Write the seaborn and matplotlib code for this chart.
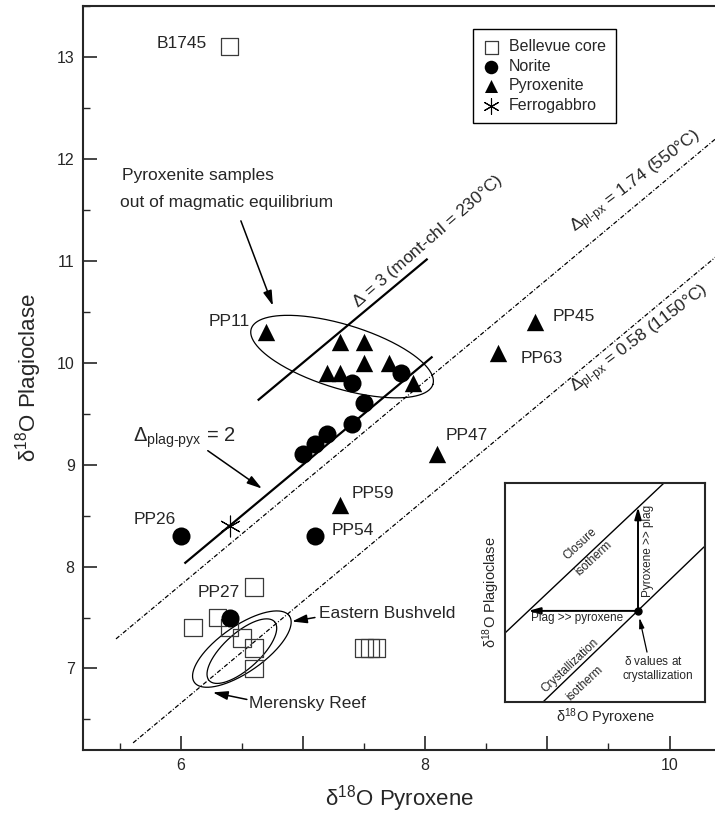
import numpy as np
import pandas as pd
import matplotlib
matplotlib.use("Agg")
import matplotlib.pyplot as plt
import seaborn as sns

# ---------------- data ----------------
bellevue_x = [6.4, 6.6, 6.1, 6.3, 6.4, 6.5, 6.6, 6.6, 7.5, 7.55, 7.6]
bellevue_y = [13.1, 7.8, 7.4, 7.5, 7.4, 7.3, 7.2, 7.0, 7.2, 7.2, 7.2]
norite_x = [6.0, 7.1, 6.4, 7.0, 7.1, 7.2, 7.4, 7.5, 7.4, 7.8]
norite_y = [8.3, 8.3, 7.5, 9.1, 9.2, 9.3, 9.4, 9.6, 9.8, 9.9]
pyroxenite_x = [6.7, 8.9, 8.6, 8.1, 7.3, 7.3, 7.5, 7.2, 7.3, 7.5, 7.7, 7.9]
pyroxenite_y = [10.3, 10.4, 10.1, 9.1, 8.6, 10.2, 10.2, 9.9, 9.9, 10.0, 10.0, 9.8]
ferrogabbro_x = [6.4]
ferrogabbro_y = [8.4]

# sample labels: name, x, y, offset (px), ha
label_names = ["B1745", "PP11", "PP45", "PP63", "PP47", "PP59", "PP54", "PP26", "PP27"]
label_x = [6.4, 6.7, 8.9, 8.6, 8.1, 7.3, 7.1, 6.0, 6.4]
label_y = [13.1, 10.3, 10.4, 10.1, 9.1, 8.6, 8.3, 8.3, 7.5]
label_dx = [-23, -16, 17, 22, 8, 12, 16, -47, -32]
label_dy = [3, 11, 5, -6, 19, 12, 5, 16, 25]
label_ha = ["right", "right", "left", "left", "left", "left", "left", "left", "left"]

# reference lines y = x + delta
solid_delta = [2.0, 3.0]
solid_x0 = [6.03, 6.63]
solid_x1 = [8.06, 8.02]
dashdot_delta = [1.82, 0.66]
dashdot_x0 = [5.47, 5.61]
dashdot_x1 = [10.4, 10.4]

XLIM = (5.2, 10.38)
YLIM = (6.2, 13.49)

# ---------------- style ----------------
sns.set_style("ticks")
plt.rcParams["font.family"] = ["Liberation Sans", "DejaVu Sans"]
plt.rcParams["mathtext.fontset"] = "custom"
plt.rcParams["mathtext.rm"] = "Liberation Sans"
plt.rcParams["mathtext.it"] = "Liberation Sans:italic"
plt.rcParams["mathtext.sf"] = "Liberation Sans"
plt.rcParams["mathtext.bf"] = "Liberation Sans:bold"

FS = 12.5

W, H = 715, 816
fig = plt.figure(figsize=(W / 100, H / 100), dpi=100)
ax_l, ax_r, ax_t, ax_b = 83, 716, 6, 750
ax = fig.add_axes([ax_l / W, 1 - ax_b / H, (ax_r - ax_l) / W, (ax_b - ax_t) / H])
ax.set_xlim(*XLIM)
ax.set_ylim(*YLIM)
sx = (ax_r - ax_l) / (XLIM[1] - XLIM[0])
sy = (ax_b - ax_t) / (YLIM[1] - YLIM[0])

# ---------------- reference lines ----------------
for d, x0, x1 in zip(solid_delta, solid_x0, solid_x1):
    xs = np.array([x0, x1])
    ax.plot(xs, xs + d, color="black", lw=1.6, zorder=2, solid_capstyle="butt")
for d, x0, x1 in zip(dashdot_delta, dashdot_x0, dashdot_x1):
    xs = np.array([x0, x1])
    ax.plot(xs, xs + d, color="black", lw=0.9, dashes=(3.5, 1.5, 0.8, 1.5), zorder=2)

# ---------------- ellipses ----------------
def px_ellipse(cx, cy, a, b, ang, **kw):
    t = np.linspace(0, 2 * np.pi, 300)
    th = np.deg2rad(ang)
    ex = a * np.cos(t) * np.cos(th) - b * np.sin(t) * np.sin(th)
    ey = a * np.cos(t) * np.sin(th) + b * np.sin(t) * np.cos(th)
    ax.plot(cx + ex / sx, cy + ey / sy, **kw)

px_ellipse(7.32, 10.06, 95, 32, -17, color="black", lw=0.9, zorder=2)
px_ellipse(6.5, 7.19, 58, 23, 35, color="black", lw=0.9, zorder=2)
px_ellipse(6.5, 7.17, 44, 18, 42, color="black", lw=0.9, zorder=2)

# ---------------- scatter ----------------
df_b = pd.DataFrame({"x": bellevue_x, "y": bellevue_y})
df_n = pd.DataFrame({"x": norite_x, "y": norite_y})
df_p = pd.DataFrame({"x": pyroxenite_x, "y": pyroxenite_y})
df_f = pd.DataFrame({"x": ferrogabbro_x, "y": ferrogabbro_y})

sns.scatterplot(data=df_b, x="x", y="y", marker="s", s=12.5 ** 2, color="none",
                edgecolor="#3a3a3a", linewidth=0.9, label="Bellevue core", ax=ax, zorder=3)
sns.scatterplot(data=df_n, x="x", y="y", marker="o", s=13 ** 2, color="black",
                linewidth=0, label="Norite", ax=ax, zorder=4)
sns.scatterplot(data=df_p, x="x", y="y", marker="^", s=12.5 ** 2, color="black",
                linewidth=0, label="Pyroxenite", ax=ax, zorder=4)
sns.scatterplot(data=df_f, x="x", y="y", marker=(6, 2, 0), s=15 ** 2, color="black",
                edgecolor="black", linewidth=0.8, label="Ferrogabbro", ax=ax, zorder=4)

# ---------------- sample labels ----------------
for n, x, y, dx, dy, ha in zip(label_names, label_x, label_y, label_dx, label_dy, label_ha):
    ax.annotate(n, xy=(x, y), xytext=(dx * 0.72, dy * 0.72), textcoords="offset points",
                ha=ha, va="center", fontsize=FS)

# ---------------- annotations ----------------
arr = dict(arrowstyle="-|>,head_width=0.22,head_length=0.75", color="black", lw=1.1,
           shrinkA=0, shrinkB=0, mutation_scale=12)
ax.text(5.516, 11.833, "Pyroxenite samples", fontsize=FS, ha="left", va="center")
ax.text(5.50, 11.569, "out of magmatic equilibrium", fontsize=FS, ha="left", va="center")
ax.annotate("", xy=(6.754, 10.559), xytext=(6.492, 11.392), arrowprops=arr)

ax.text(5.607, 9.225, r"$\Delta_{\mathrm{plag\text{-}pyx}}$ = 2", fontsize=14.5, ha="left", va="baseline")
ax.annotate("", xy=(6.664, 8.765), xytext=(6.221, 9.137), arrowprops=arr)

ax.text(7.131, 7.539, "Eastern Bushveld", fontsize=FS, ha="left", va="center")
ax.annotate("", xy=(6.91, 7.461), xytext=(7.098, 7.50), arrowprops=arr)
ax.text(6.557, 6.657, "Merensky Reef", fontsize=FS, ha="left", va="center")
ax.annotate("", xy=(6.262, 6.765), xytext=(6.541, 6.696), arrowprops=arr)

ax.text(7.45, 10.53, r"$\Delta$ = 3 (mont-chl = 230°C)", fontsize=FS, rotation=41,
        rotation_mode="anchor", ha="left", va="baseline")
ax.text(9.23, 11.27, r"$\Delta_{\mathrm{pl\text{-}px}}$ = 1.74 (550°C)", fontsize=FS, rotation=37,
        rotation_mode="anchor", ha="left", va="baseline")
ax.text(9.23, 9.70, r"$\Delta_{\mathrm{pl\text{-}px}}$ = 0.58 (1150°C)", fontsize=FS, rotation=37,
        rotation_mode="anchor", ha="left", va="baseline")

# ---------------- axes styling ----------------
ax.set_xticks([6, 7, 8, 9, 10])
ax.set_xticklabels(["6", "", "8", "", "10"])
ax.set_xticks(np.arange(5.5, 10.4, 1.0), minor=True)
ax.set_yticks([7, 8, 9, 10, 11, 12, 13])
ax.set_yticks(np.arange(6.5, 13.6, 1.0), minor=True)
ax.tick_params(which="major", direction="in", length=10, width=1.2, labelsize=11.5, pad=6)
ax.tick_params(which="minor", direction="in", length=5, width=1.0)
ax.tick_params(top=False, right=False)
for s in ["left", "bottom", "top"]:
    ax.spines[s].set_linewidth(1.5)
ax.spines["right"].set_visible(False)
ax.set_xlabel(r"$\mathrm{\delta^{18}}$O Pyroxene", fontsize=16, labelpad=7)
ax.set_ylabel(r"$\mathrm{\delta^{18}}$O Plagioclase", fontsize=16, labelpad=9)

leg = ax.legend(loc="upper left", bbox_to_anchor=((473 - ax_l) / (ax_r - ax_l), (ax_b - 29) / (ax_b - ax_t)),
                frameon=True, fancybox=False, edgecolor="black", framealpha=1, fontsize=11.5,
                handletextpad=0.6, labelspacing=0.28, borderpad=0.65, markerscale=0.75,
                handlelength=1.0, borderaxespad=0)
leg.get_frame().set_linewidth(1.0)

# ---------------- inset ----------------
ix0, ix1, iy0, iy1 = 505, 705, 483, 702
axi = fig.add_axes([ix0 / W, 1 - iy1 / H, (ix1 - ix0) / W, (iy1 - iy0) / H])
axi.set_xlim(0, 1)
axi.set_ylim(0, 1)
axi.set_xticks([])
axi.set_yticks([])
for s in axi.spines.values():
    s.set_linewidth(1.5)
axi.plot([0, 0.795], [0.315, 1.0], color="black", lw=1.0)
axi.plot([0.19, 0.995], [0.0, 0.708], color="black", lw=1.0)
iarr = dict(arrowstyle="-|>,head_width=0.2,head_length=0.7", color="black", lw=1.4,
            shrinkA=0, shrinkB=0, mutation_scale=10)
axi.annotate("", xy=(0.665, 0.89), xytext=(0.665, 0.416), arrowprops=iarr)
axi.annotate("", xy=(0.117, 0.416), xytext=(0.665, 0.416), arrowprops=iarr)
axi.plot([0.665], [0.416], "o", color="black", ms=5)
axi.annotate("", xy=(0.672, 0.385), xytext=(0.71, 0.228),
             arrowprops=dict(arrowstyle="-|>,head_width=0.15,head_length=0.6", color="black",
                             lw=0.9, shrinkA=0, shrinkB=0, mutation_scale=10))
axi.text(0.715, 0.69, "Pyroxene >> plag", rotation=90, fontsize=8.5, ha="center", va="center")
axi.text(0.36, 0.385, "Plag >> pyroxene", fontsize=8.5, ha="center", va="center")
axi.text(0.375, 0.72, "Closure", fontsize=8.5, rotation=43, ha="center", va="center")
axi.text(0.445, 0.655, "isotherm", fontsize=8.5, rotation=43, ha="center", va="center")
axi.text(0.325, 0.165, "Crystallization", fontsize=8.5, rotation=43, ha="center", va="center")
axi.text(0.40, 0.085, "isotherm", fontsize=8.5, rotation=43, ha="center", va="center")
axi.text(0.74, 0.183, r"$\mathrm{\delta}$ values at", fontsize=8.5, ha="center", va="center")
axi.text(0.765, 0.117, "crystallization", fontsize=8.5, ha="center", va="center")
axi.set_xlabel(r"$\mathrm{\delta^{18}}$O Pyroxene", fontsize=10.5, labelpad=3)
axi.set_ylabel(r"$\mathrm{\delta^{18}}$O Plagioclase", fontsize=10.5, labelpad=2)

fig.savefig("out.png", dpi=100)
